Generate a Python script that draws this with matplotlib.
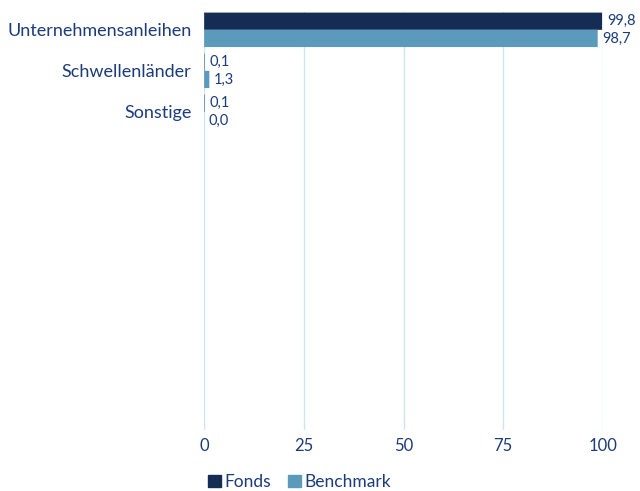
import matplotlib
matplotlib.use("Agg")
import matplotlib.pyplot as plt
from matplotlib.patches import Patch
import numpy as np

categories = ["Unternehmensanleihen", "Schwellenländer", "Sonstige"]
fonds = [99.8, 0.1, 0.1]
benchmark = [98.7, 1.3, 0.0]
fonds_labels = ["99,8", "0,1", "0,1"]
bench_labels = ["98,7", "1,3", "0,0"]
xticks = [0, 25, 50, 75, 100]

c_fonds = "#152C55"
c_bench = "#5B9ABA"
c_text = "#1B3C7A"
c_grid = "#CDE6EE"

plt.rcParams['font.family'] = ['Lato', 'DejaVu Sans']

fig = plt.figure(figsize=(6.4, 4.91), dpi=100)
ax = fig.add_axes([0.319, 0.124, 0.623, 0.852])

y = np.arange(len(categories))
h = 0.42
ax.barh(y - h/2, fonds, height=h, color=c_fonds, zorder=3, snap=False)
ax.barh(y + h/2, benchmark, height=h, color=c_bench, zorder=3, snap=False)

for yi, v, s in zip(y - h/2, fonds, fonds_labels):
    ax.text(v + 1.2, yi, s, va="center", ha="left", fontsize=10.5, color=c_text)
for yi, v, s in zip(y + h/2, benchmark, bench_labels):
    ax.text(v + 1.2, yi, s, va="center", ha="left", fontsize=10.5, color=c_text)

ax.set_xlim(0, 100)
ax.set_ylim(9.76, -0.44)
ax.set_yticks(y)
ax.set_yticklabels(categories, fontsize=13, color=c_text)
ax.set_xticks(xticks)
ax.set_xticklabels([str(t) for t in xticks], fontsize=12, color=c_text)
ax.tick_params(axis="y", length=0, pad=9)
ax.tick_params(axis="x", length=0, pad=6)
ax.grid(axis="x", color=c_grid, linewidth=1, zorder=0)
for s in ax.spines.values():
    s.set_visible(False)

handles = [Patch(color=c_fonds, label="Fonds"), Patch(color=c_bench, label="Benchmark")]
fig.legend(handles=handles, loc="lower left", bbox_to_anchor=(0.3, -0.03), ncol=2,
           frameon=False, fontsize=12.5, labelcolor=c_text, handlelength=0.75, handleheight=0.75,
           handletextpad=0.2, columnspacing=1.0)

fig.savefig("out.png", dpi=100)
